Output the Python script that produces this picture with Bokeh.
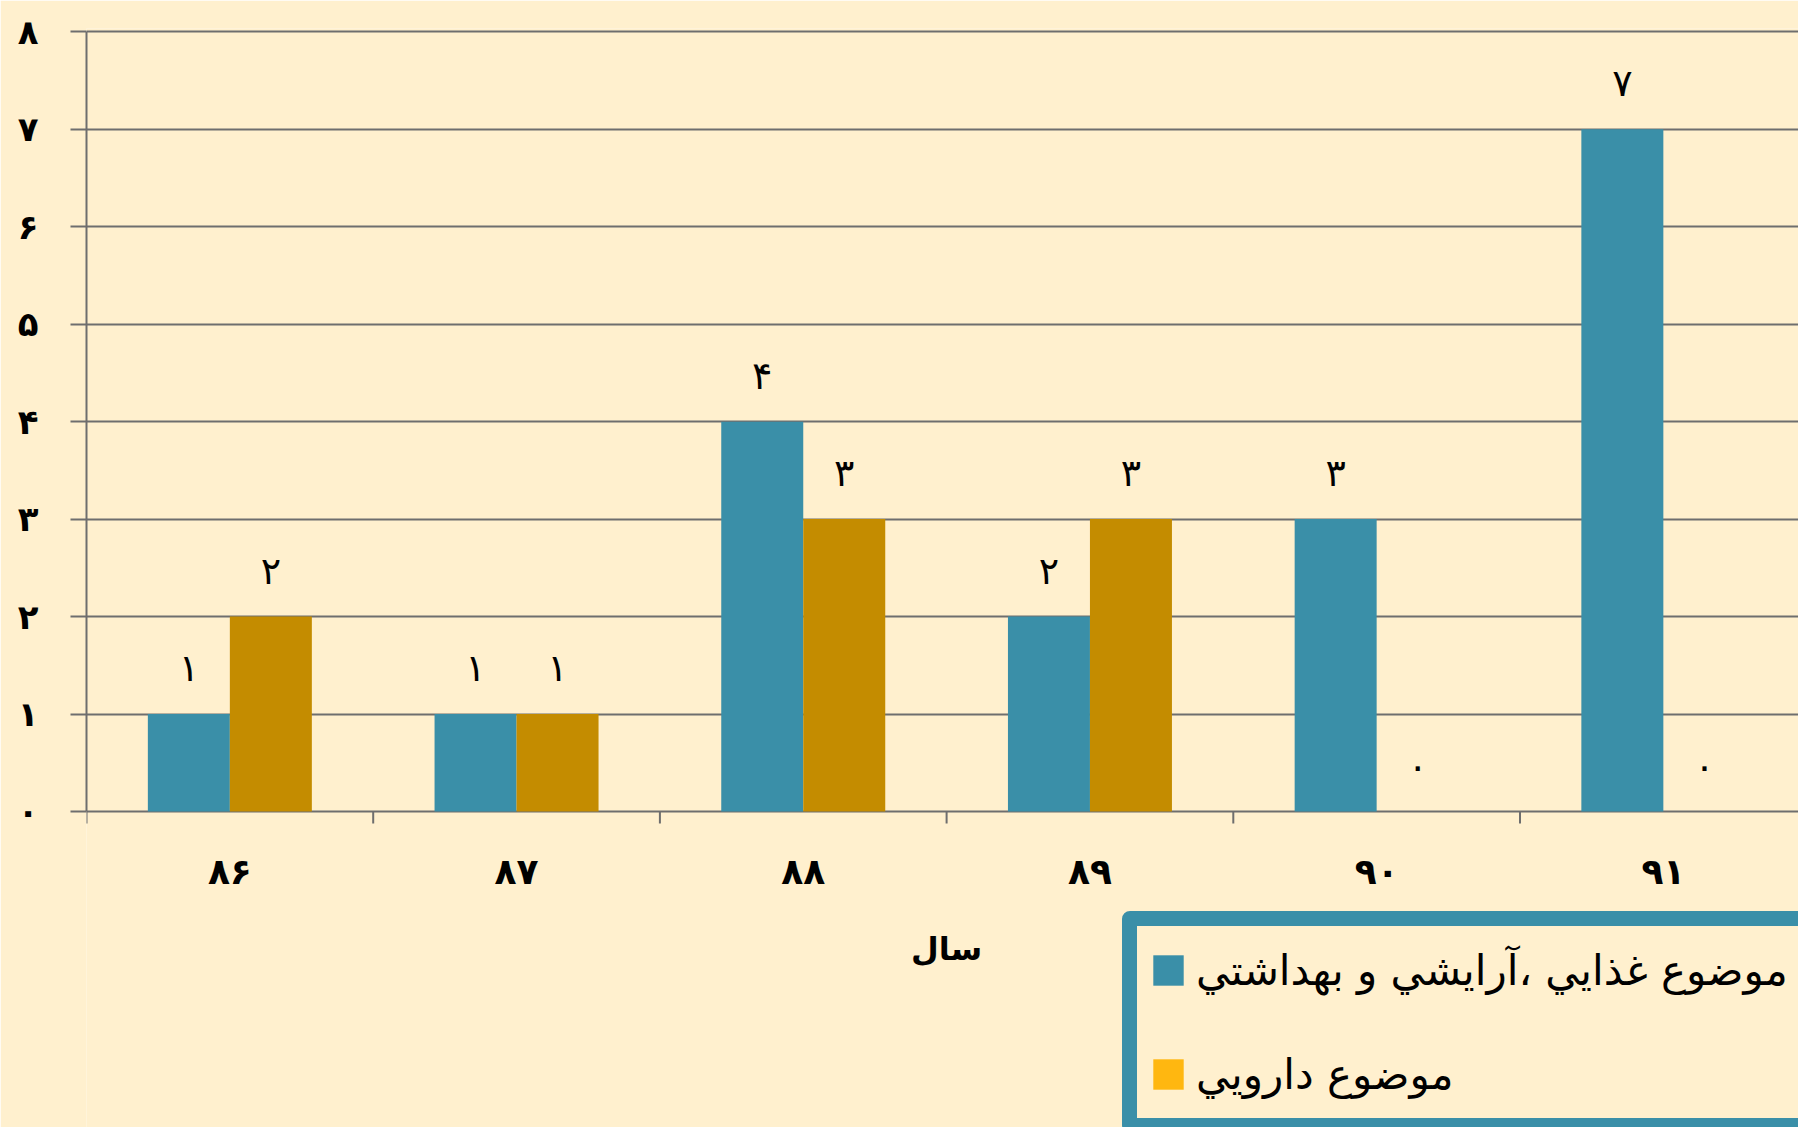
import math
from bokeh.plotting import figure
from bokeh.models import Range1d, FixedTicker, Legend, LegendItem, ColumnDataSource
from bokeh.transform import dodge
from bokeh.embed import file_html
from bokeh.resources import INLINE
from bokeh.core.properties import value

# ---- data ----
years = ["۸۶", "۸۷", "۸۸", "۸۹", "۹۰", "۹۱"]
food_cosmetic = [1, 1, 4, 2, 3, 7]
drug = [2, 1, 3, 3, 0, 0]
y_tick_values = [0, 1, 2, 3, 4, 5, 6, 7, 8]
y_tick_labels = ["۰", "۱", "۲", "۳", "۴", "۵", "۶", "۷", "۸"]
series_names = ["موضوع غذايي ،آرايشي و بهداشتي", "موضوع دارويي"]
x_title = "سال"

# ---- style ----
TEAL = "#3A8FA8"
GOLD = "#C48C00"
GOLD_LEGEND = "#FFB710"
BG = "#FFF0CE"
GRID = "#6E6E6E"
FONT = "DejaVu Sans"

digits = dict(zip("0123456789", "۰۱۲۳۴۵۶۷۸۹"))


def fa(n):
    return "".join(digits[c] for c in str(n))


W, H = 1798, 1127
LEFT, TOP = 86, 28
ZERO_Y = 811            # pixel row (in the canvas) of the value 0
UNIT_PX = 97.46         # pixels per unit on the value axis
CAT_PX = 286.7          # pixels per category
x_end = (W - LEFT) / CAT_PX
y_start = -(H - ZERO_Y) / UNIT_PX
y_end = 8 + (ZERO_Y - TOP - 8 * UNIT_PX) / UNIT_PX
BAR_W = 0.286

centers = [i + 0.5 for i in range(len(years))]
bounds = [float(i) for i in range(len(years) + 1)]

src = ColumnDataSource(dict(
    x=centers,
    year=years,
    zero=[0] * len(years),
    food=food_cosmetic,
    drug=drug,
    food_lbl=[fa(v) for v in food_cosmetic],
    drug_lbl=[fa(v) for v in drug],
))

p = figure(width=W, height=H, output_backend="svg", toolbar_location=None,
           x_range=Range1d(0, x_end), y_range=Range1d(y_start, y_end),
           x_axis_location=None,
           min_border_left=LEFT, min_border_right=0, min_border_top=TOP,
           min_border_bottom=0,
           background_fill_color=BG, border_fill_color=BG,
           outline_line_color=None)

# grid
p.xgrid.visible = False
p.ygrid.ticker = FixedTicker(ticks=y_tick_values)
p.ygrid.grid_line_color = GRID
p.ygrid.grid_line_width = 2

r_food = p.vbar(x=dodge("x", -BAR_W / 2, range=p.x_range), top="food", width=BAR_W,
                source=src, fill_color=TEAL, line_color=None)
r_drug = p.vbar(x=dodge("x", BAR_W / 2, range=p.x_range), top="drug", width=BAR_W,
                source=src, fill_color=GOLD, line_color=None)
# legend swatch for second series (brighter tone as in original legend); no visible bar
r_drug_leg = p.vbar(x=[float("nan")], top=[float("nan")], width=BAR_W,
                    fill_color=GOLD_LEGEND, line_color=None)

# value labels above bars
lbl_kw = dict(text_align="center", text_baseline="middle", y_offset=-46,
              text_font=value(FONT), text_font_size="38px", text_color="black")
p.text(x=dodge("x", -BAR_W / 2, range=p.x_range), y="food", text="food_lbl", source=src, **lbl_kw)
p.text(x=dodge("x", BAR_W / 2, range=p.x_range), y="drug", text="drug_lbl", source=src, **lbl_kw)

# category axis (drawn at value 0): boundary ticks, category labels, title
p.ray(x=bounds, y=[0] * len(bounds), length=12, length_units="screen",
      angle=-math.pi / 2, line_color=GRID, line_width=2)
p.text(x="x", y="zero", text="year", source=src, y_offset=60,
       text_align="center", text_baseline="middle",
       text_font=value(FONT), text_font_size="36px", text_font_style="bold",
       text_color="black")
p.text(x=[len(years) / 2], y=[0], text=[x_title], y_offset=137,
       text_align="center", text_baseline="middle",
       text_font=value(FONT), text_font_size="32px", text_font_style="bold",
       text_color="black")

# y axis
ya = p.yaxis[0]
ya.bounds = (0, 8)
ya.ticker = FixedTicker(ticks=y_tick_values)
ya.major_label_overrides = {v: l for v, l in zip(y_tick_values, y_tick_labels)}
ya.axis_line_color = GRID
ya.axis_line_width = 2
ya.major_tick_line_color = GRID
ya.major_tick_line_width = 2
ya.major_tick_out = 16
ya.major_tick_in = 0
ya.minor_tick_line_color = None
ya.major_label_standoff = 32
ya.major_label_text_font = FONT
ya.major_label_text_font_size = "34px"
ya.major_label_text_font_style = "bold"
ya.major_label_text_color = "black"

legend = Legend(
    items=[LegendItem(label=series_names[0], renderers=[r_food]),
           LegendItem(label=series_names[1], renderers=[r_drug_leg])],
    location=(1036, -6), orientation="vertical",
    glyph_width=38, glyph_height=38, label_height=64, spacing=40,
    padding=12, label_standoff=9, margin=0,
    border_line_color=TEAL, border_line_width=15, border_line_alpha=1.0,
    background_fill_color=BG, background_fill_alpha=1.0,
    label_text_font=FONT, label_text_font_size="42px", label_text_color="black",
)
if "border_radius" in Legend.properties():
    legend.border_radius = 8
p.add_layout(legend, "center")

open("out.html", "w").write(file_html(p, INLINE))
